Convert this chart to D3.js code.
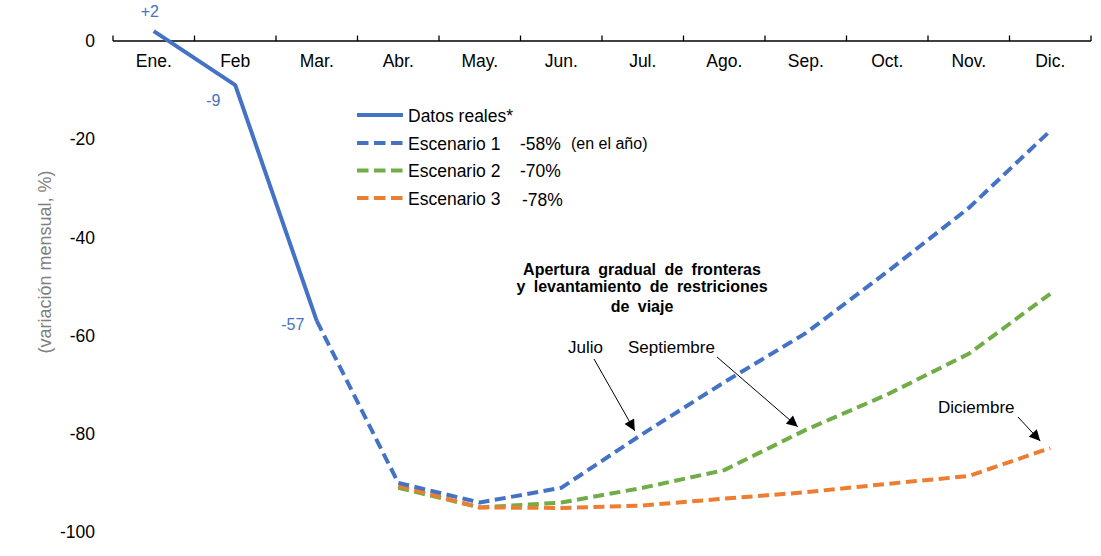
<!DOCTYPE html>
<html>
<head>
<meta charset="utf-8">
<script src="https://cdn.jsdelivr.net/npm/d3@7"></script>
<style>
  html, body { margin: 0; padding: 0; background: #fff; }
  svg { display: block; font-family: "Liberation Sans", Arial, sans-serif; }
</style>
</head>
<body>
<svg id="chart" width="1101" height="556"></svg>
<script>
// ---------- DATA ----------
const months = ["Ene.", "Feb", "Mar.", "Abr.", "May.", "Jun.", "Jul.", "Ago.", "Sep.", "Oct.", "Nov.", "Dic."];
const yTicks = [0, -20, -40, -60, -80, -100];

// Actual data (Ene.–Mar.)
const realMonths = ["Ene.", "Feb", "Mar."];
const realValues = [2, -9, -57];
const realLabels = ["+2", "-9", "-57"];

// Scenario 1 (starts at Mar.)
const esc1Months = ["Mar.", "Abr.", "May.", "Jun.", "Jul.", "Ago.", "Sep.", "Oct.", "Nov.", "Dic."];
const esc1Values = [-57, -90, -94, -91, -80, -69.5, -59.5, -47, -34, -18.3];

// Scenario 2 (starts at Abr.)
const esc2Months = ["Abr.", "May.", "Jun.", "Jul.", "Ago.", "Sep.", "Oct.", "Nov.", "Dic."];
const esc2Values = [-91, -95, -94, -91, -87.4, -79.2, -72, -63.7, -51.5];

// Scenario 3 (starts at Abr.)
const esc3Months = ["Abr.", "May.", "Jun.", "Jul.", "Ago.", "Sep.", "Oct.", "Nov.", "Dic."];
const esc3Values = [-90.6, -95, -95.1, -94.6, -93.2, -91.9, -90.2, -88.6, -82.9];

const legendNames = ["Datos reales*", "Escenario 1", "Escenario 2", "Escenario 3"];
const legendPcts = ["", "-58%", "-70%", "-78%"];

const blue = "#4472C4", green = "#70AD47", orange = "#ED7D31";

// ---------- SCALES ----------
const svg = d3.select("#chart");
const x = d3.scaleBand().domain(months).range([113, 1091]).padding(0);
const y = d3.scaleLinear().domain([-100, 0]).range([532, 41]);
const cx = m => x(m) + x.bandwidth() / 2;

// ---------- Y AXIS ----------
const yAxis = svg.append("g")
  .attr("transform", "translate(100,0)")
  .call(d3.axisLeft(y).tickValues(yTicks).tickSize(0).tickPadding(5).tickFormat(d => String(d)));
yAxis.select(".domain").remove();
yAxis.selectAll("text")
  .attr("font-family", "Liberation Sans, Arial, sans-serif")
  .attr("font-size", 17.5).attr("fill", "#000");

svg.append("text")
  .attr("transform", "translate(51,262) rotate(-90)")
  .attr("text-anchor", "middle")
  .attr("font-size", 18).attr("fill", "#7f7f7f")
  .text("(variación mensual, %)");

// ---------- X AXIS (at y = 0) ----------
const xAxis = svg.append("g")
  .attr("transform", `translate(0,${y(0)})`)
  .call(d3.axisBottom(x).tickSize(0).tickPadding(14));
xAxis.select(".domain").remove();
xAxis.selectAll("text")
  .attr("font-family", "Liberation Sans, Arial, sans-serif")
  .attr("font-size", 17.5).attr("fill", "#000");

svg.append("line")
  .attr("x1", x.range()[0]).attr("x2", x.range()[1])
  .attr("y1", y(0)).attr("y2", y(0))
  .attr("stroke", "#000").attr("stroke-width", 1.3);

const boundaries = months.map(m => x(m)).concat([x.range()[1]]);
svg.append("g").selectAll("line").data(boundaries).join("line")
  .attr("x1", d => d).attr("x2", d => d)
  .attr("y1", y(0) - 5.5).attr("y2", y(0))
  .attr("stroke", "#000").attr("stroke-width", 1.3);

// ---------- LINES ----------
const line = d3.line().x(d => cx(d[0])).y(d => y(d[1]));
const zip = (ms, vs) => ms.map((m, i) => [m, vs[i]]);
const dash = "11,5.5";

svg.append("path").datum(zip(esc2Months, esc2Values))
  .attr("d", line).attr("fill", "none").attr("stroke", green)
  .attr("stroke-width", 4).attr("stroke-dasharray", dash).attr("stroke-linejoin", "round");
svg.append("path").datum(zip(esc3Months, esc3Values))
  .attr("d", line).attr("fill", "none").attr("stroke", orange)
  .attr("stroke-width", 4).attr("stroke-dasharray", dash).attr("stroke-linejoin", "round");
svg.append("path").datum(zip(esc1Months, esc1Values))
  .attr("d", line).attr("fill", "none").attr("stroke", blue)
  .attr("stroke-width", 4).attr("stroke-dasharray", dash).attr("stroke-linejoin", "round");
svg.append("path").datum(zip(realMonths, realValues))
  .attr("d", line).attr("fill", "none").attr("stroke", blue)
  .attr("stroke-width", 4).attr("stroke-linejoin", "round");

// Data labels for actual data
const labelOffsets = [[-4, -14.5], [-22, 21], [-24, 9]];
svg.append("g").selectAll("text").data(realMonths).join("text")
  .attr("x", (d, i) => cx(d) + labelOffsets[i][0])
  .attr("y", (d, i) => y(realValues[i]) + labelOffsets[i][1])
  .attr("text-anchor", "middle")
  .attr("font-size", 16).attr("fill", blue)
  .text((d, i) => realLabels[i]);

// ---------- LEGEND ----------
const legendColors = [blue, blue, green, orange];
const legendY = [115, 143, 170.5, 198];
const lg = svg.append("g");
legendNames.forEach((name, i) => {
  lg.append("line")
    .attr("x1", 357).attr("x2", 403)
    .attr("y1", legendY[i]).attr("y2", legendY[i])
    .attr("stroke", legendColors[i]).attr("stroke-width", 4)
    .attr("stroke-dasharray", i === 0 ? null : "11.5,5.5");
  lg.append("text")
    .attr("x", 408).attr("y", legendY[i] + 6.5)
    .attr("font-size", 17.5).attr("fill", "#000")
    .text(name);
  if (legendPcts[i]) {
    lg.append("text")
      .attr("x", i === 3 ? 522 : 520).attr("y", legendY[i] + (i === 3 ? 8 : 6.5))
      .attr("font-size", 17.5).attr("fill", "#000")
      .text(legendPcts[i]);
  }
});
lg.append("text")
  .attr("x", 571).attr("y", legendY[1] + 5.5)
  .attr("font-size", 16).attr("fill", "#000")
  .text("(en el año)");

// ---------- ANNOTATIONS ----------
const ann = svg.append("g");
const titleLines = ["Apertura gradual de fronteras", "y levantamiento de restriciones", "de viaje"];
const titleY = [275, 292, 312];
titleLines.forEach((t, i) => {
  ann.append("text")
    .attr("x", 642).attr("y", titleY[i])
    .attr("text-anchor", "middle")
    .attr("font-size", 16).attr("font-weight", "bold")
    .attr("word-spacing", 4)
    .attr("fill", "#000").text(t);
});

svg.append("defs").append("marker")
  .attr("id", "arrow").attr("viewBox", "0 0 10 10")
  .attr("refX", 10).attr("refY", 5)
  .attr("markerWidth", 12).attr("markerHeight", 11)
  .attr("markerUnits", "userSpaceOnUse")
  .attr("orient", "auto")
  .append("path").attr("d", "M0,0 L10,5 L0,10 z").attr("fill", "#000");

const notes = [
  { text: "Julio", tx: 568, ty: 353, from: [594, 359], month: "Jul.", val: esc1Values[4], off: [-8, -3] },
  { text: "Septiembre", tx: 628, ty: 353, from: [717, 357], month: "Sep.", val: esc2Values[5], off: [-8, -3] },
  { text: "Diciembre", tx: 938, ty: 413, from: [1018, 417], month: "Dic.", val: esc3Values[8], off: [-10, -7] }
];
notes.forEach(n => {
  ann.append("text")
    .attr("x", n.tx).attr("y", n.ty)
    .attr("font-size", 17).attr("fill", "#000").text(n.text);
  ann.append("line")
    .attr("x1", n.from[0]).attr("y1", n.from[1])
    .attr("x2", cx(n.month) + n.off[0]).attr("y2", y(n.val) + n.off[1])
    .attr("stroke", "#000").attr("stroke-width", 1)
    .attr("marker-end", "url(#arrow)");
});
</script>
</body>
</html>
